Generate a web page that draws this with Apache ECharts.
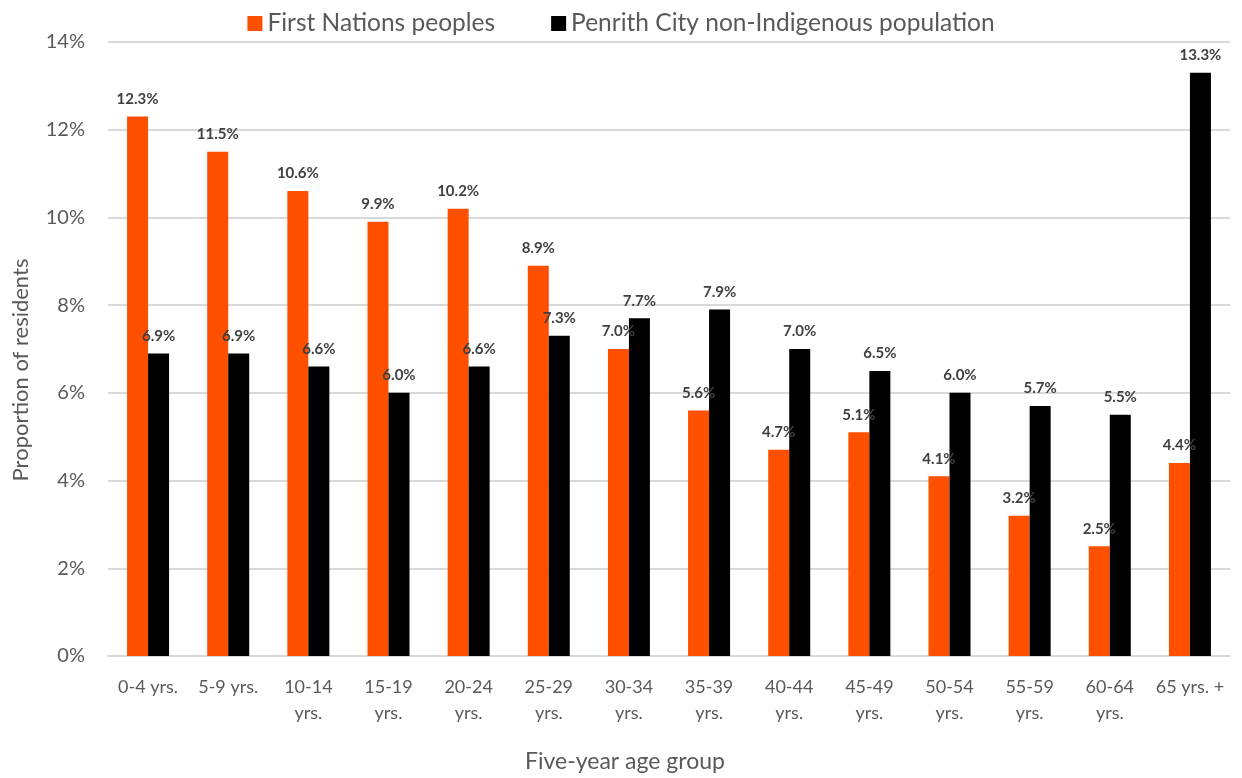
<!DOCTYPE html>
<html>
<head>
<meta charset="utf-8">
<script src="https://cdn.jsdelivr.net/npm/echarts@6/dist/echarts.min.js"></script>
<style>
  html, body { margin: 0; padding: 0; background: #fff; }
  #chart { width: 1242px; height: 778px; }
</style>
</head>
<body>
<div id="chart"></div>
<script>
const ageGroups = ['0-4 yrs.', '5-9 yrs.', '10-14\nyrs.', '15-19\nyrs.', '20-24\nyrs.', '25-29\nyrs.', '30-34\nyrs.',
  '35-39\nyrs.', '40-44\nyrs.', '45-49\nyrs.', '50-54\nyrs.', '55-59\nyrs.', '60-64\nyrs.', '65 yrs. +'];
const firstNations = [12.3, 11.5, 10.6, 9.9, 10.2, 8.9, 7.0, 5.6, 4.7, 5.1, 4.1, 3.2, 2.5, 4.4];
const nonIndigenous = [6.9, 6.9, 6.6, 6.0, 6.6, 7.3, 7.7, 7.9, 7.0, 6.5, 6.0, 5.7, 5.5, 13.3];

const chart = echarts.init(document.getElementById('chart'));
const font = 'Lato, "Open Sans", sans-serif';

const barLabel = {
  show: true,
  position: 'top',
  distance: 10,
  fontFamily: font,
  fontSize: 15,
  fontWeight: 'bold',
  color: '#404040',
  formatter: p => p.value.toFixed(1) + '%'
};

chart.setOption({
  animation: false,
  textStyle: { fontFamily: font },
  legend: {
    top: 6,
    left: 'center',
    itemWidth: 15,
    itemHeight: 15,
    itemGap: 56,
    icon: 'rect',
    textStyle: { fontSize: 24.5, color: '#595959', fontFamily: font },
    data: ['First Nations peoples', 'Penrith City non-Indigenous population']
  },
  grid: { left: 108, right: 12, top: 42, bottom: 117 },
  xAxis: {
    type: 'category',
    data: ageGroups,
    name: 'Five-year age group',
    nameLocation: 'middle',
    nameGap: 94,
    nameTextStyle: { fontSize: 23, color: '#595959', fontFamily: font, padding: [0, 88, 0, 0] },
    axisLine: { lineStyle: { color: '#d9d9d9', width: 2 } },
    axisTick: { show: false },
    axisLabel: { fontSize: 18, color: '#595959', margin: 18, lineHeight: 26, interval: 0, fontFamily: font }
  },
  yAxis: {
    type: 'value',
    min: 0,
    max: 14,
    interval: 2,
    name: 'Proportion of residents',
    nameLocation: 'middle',
    nameGap: 76,
    nameTextStyle: { fontSize: 22, color: '#595959', fontFamily: font, padding: [0, 42, 0, 0] },
    axisLabel: { formatter: '{value}%', fontSize: 20, color: '#595959', margin: 23, fontFamily: font },
    splitLine: { lineStyle: { color: '#d9d9d9', width: 2 } },
    axisLine: { show: false },
    axisTick: { show: false }
  },
  series: [
    {
      name: 'First Nations peoples',
      type: 'bar',
      data: firstNations,
      barWidth: 21,
      barGap: '0%',
      itemStyle: { color: '#ff5000' },
      label: barLabel
    },
    {
      name: 'Penrith City non-Indigenous population',
      type: 'bar',
      data: nonIndigenous,
      barWidth: 21,
      itemStyle: { color: '#000000' },
      label: barLabel
    }
  ]
});

window.addEventListener('resize', () => chart.resize());
</script>
</body>
</html>
